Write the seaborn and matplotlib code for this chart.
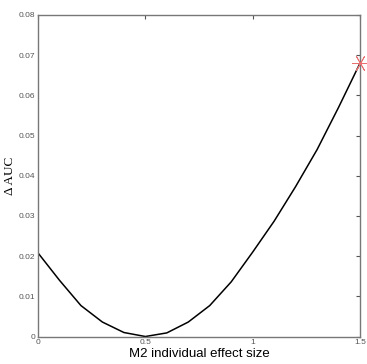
import numpy as np
import pandas as pd
import matplotlib
matplotlib.use("Agg")
import matplotlib.pyplot as plt
import seaborn as sns

# effect size grid and delta AUC
effect_size = [0.0, 0.1, 0.2, 0.3, 0.4, 0.5, 0.6, 0.7, 0.8, 0.9, 1.0, 1.1, 1.2, 1.3, 1.4, 1.5]
delta_auc = [0.0208, 0.0140, 0.0077, 0.0036, 0.0010, 0.0, 0.0009, 0.0036,
             0.0077, 0.0136, 0.0210, 0.0287, 0.0373, 0.0465, 0.0570, 0.0680]
x_ticks = [0, 0.5, 1, 1.5]
x_tick_labels = ["0", "0.5", "1", "1.5"]
y_ticks = [0, 0.01, 0.02, 0.03, 0.04, 0.05, 0.06, 0.07, 0.08]
y_tick_labels = ["0", "0.01", "0.02", "0.03", "0.04", "0.05", "0.06", "0.07", "0.08"]
star_x = [1.5]
star_y = [0.068]

sns.set_style("white")
plt.rcParams['font.family'] = ['Liberation Sans', 'DejaVu Sans']

df = pd.DataFrame({'effect': effect_size, 'dauc': delta_auc})
star = pd.DataFrame({'effect': star_x, 'dauc': star_y})

fig = plt.figure(figsize=(3.67, 3.64), dpi=100, facecolor='w')
ax = fig.add_axes([0.1035, 0.0755, 0.8775, 0.8835])

sns.lineplot(x='effect', y='dauc', data=df, color='black', linewidth=1.1, ax=ax)
sns.scatterplot(x='effect', y='dauc', data=star, marker=(6, 2, 90), s=130,
                color='#e87070', edgecolor='#e87070', linewidth=0.6, ax=ax, zorder=5,
                clip_on=False)

ax.set_xlim(0, 1.5)
ax.set_ylim(0, 0.08)
ax.set_xticks(x_ticks)
ax.set_xticklabels(x_tick_labels)
ax.set_yticks(y_ticks)
ax.set_yticklabels(y_tick_labels)

ax.tick_params(direction='in', length=3, width=0.8, color='#555555', labelcolor='#555555',
               labelsize=6, top=True, right=True, pad=2)
for sp in ax.spines.values():
    sp.set_color('#777777')
    sp.set_linewidth(1.0)

ax.set_xlabel('M2 individual effect size', fontsize=9.5, color='black', labelpad=1)
ax.set_ylabel('Δ AUC', fontsize=9.5, family=['Liberation Serif', 'DejaVu Serif'],
              color='black', labelpad=2)

plt.savefig('out.png', dpi=100)
